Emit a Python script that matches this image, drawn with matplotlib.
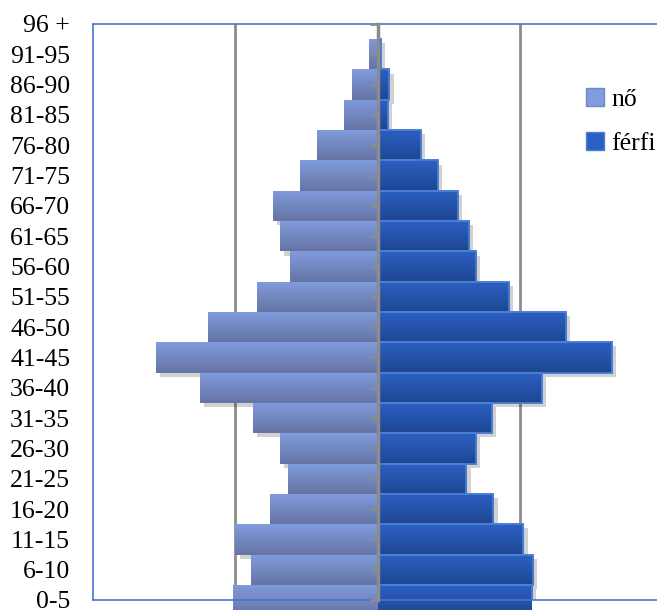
import numpy as np
import matplotlib
matplotlib.use("Agg")
import matplotlib.pyplot as plt
from matplotlib.patches import Patch
from matplotlib import patheffects as pe

AGES = ["0-5", "6-10", "11-15", "16-20", "21-25", "26-30", "31-35", "36-40",
        "41-45", "46-50", "51-55", "56-60", "61-65", "66-70", "71-75", "76-80",
        "81-85", "86-90", "91-95", "96 +"]
NO = [10.2, 8.9, 10.0, 7.6, 6.3, 6.9, 8.8, 12.5, 15.6, 11.9,
      8.5, 6.2, 6.9, 7.4, 5.5, 4.3, 2.4, 1.8, 0.6, 0.0]
FERFI = [10.8, 10.9, 10.2, 8.1, 6.2, 6.9, 8.0, 11.5, 16.4, 13.2,
         9.2, 6.9, 6.4, 5.6, 4.2, 3.0, 0.7, 0.8, 0.2, 0.0]

FRAME = "#4a76c8"
GRID = "#8c8c8c"
NO_TOP, NO_BOT = "#809cdc", "#6674a6"
FF_TOP, FF_BOT = "#2b60c2", "#1e4793"
FF_EDGE = "#4d80d4"

plt.rcParams["font.family"] = ["Liberation Serif", "DejaVu Serif"]

fig = plt.figure(figsize=(6.57, 6.10), dpi=100)
W, H = 657, 610
ax = fig.add_axes([93 / W, 10 / H, 570 / W, 576 / H])
ax.set_xlim(-20, 20)
ax.set_ylim(0, 19)

y = np.arange(len(AGES))
shadow = [pe.SimplePatchShadow(offset=(3, -3), shadow_rgbFace="#000000", alpha=0.18),
          pe.Normal()]


def gradient_fill(bars, top, bot):
    c0 = np.array(matplotlib.colors.to_rgb(top))
    c1 = np.array(matplotlib.colors.to_rgb(bot))
    t = np.linspace(0, 1, 32)[:, None, None]
    img = (c0 * (1 - t) + c1 * t).reshape(32, 1, 3)
    for r in bars:
        x0, y0, w, h = r.get_x(), r.get_y(), r.get_width(), r.get_height()
        if w == 0:
            continue
        im = ax.imshow(img, extent=(x0, x0 + w, y0, y0 + h), origin="upper",
                       aspect="auto", zorder=r.get_zorder() + 0.1,
                       interpolation="bilinear")
        im.set_clip_path(r)


bn = ax.barh(y, [-v for v in NO], height=1.0, color=NO_TOP, linewidth=0, zorder=2)
bf = ax.barh(y, FERFI, height=1.0, color=FF_TOP, edgecolor=FF_EDGE,
             linewidth=1.2, zorder=2)
for r in list(bn) + list(bf):
    r.set_path_effects(shadow)
gradient_fill(bn, NO_TOP, NO_BOT)
gradient_fill(bf, FF_TOP, FF_BOT)
# redraw edge of male bars on top of gradient
ax.barh(y, FERFI, height=1.0, facecolor="none", edgecolor=FF_EDGE,
        linewidth=1.2, zorder=2.5)

ax.set_xticks([-10, 10])
ax.tick_params(axis="x", length=0, labelbottom=False)
ax.grid(axis="x", color=GRID, linewidth=2, zorder=0)
ax.set_axisbelow(True)

ax.set_yticks(y, AGES)
ax.tick_params(axis="y", length=0, pad=16.5, labelsize=18.5)
for s in ax.spines.values():
    s.set_color(FRAME)
    s.set_linewidth(1.2)

# category axis in the middle
sec = ax.secondary_yaxis(0.5)
sec.set_alignment("left")
sec.set_yticks(y)
sec.tick_params(axis="y", length=6, width=2, color=GRID, labelleft=False,
                labelright=False)
sec.spines["left"].set_color(GRID)
sec.spines["left"].set_linewidth(2.5)
sec.set_zorder(5)

handles = [Patch(facecolor=NO_TOP, edgecolor="#7088c8", label="nő"),
           Patch(facecolor=FF_TOP, edgecolor=FF_EDGE, label="férfi")]
fig.legend(handles=handles, loc="upper left", bbox_to_anchor=(573 / W, 1 - 75 / H),
           frameon=False, fontsize=18.5, handlelength=0.7, handleheight=0.7,
           handletextpad=0.3, labelspacing=0.84, borderpad=0)

fig.savefig("out.png", dpi=100)
